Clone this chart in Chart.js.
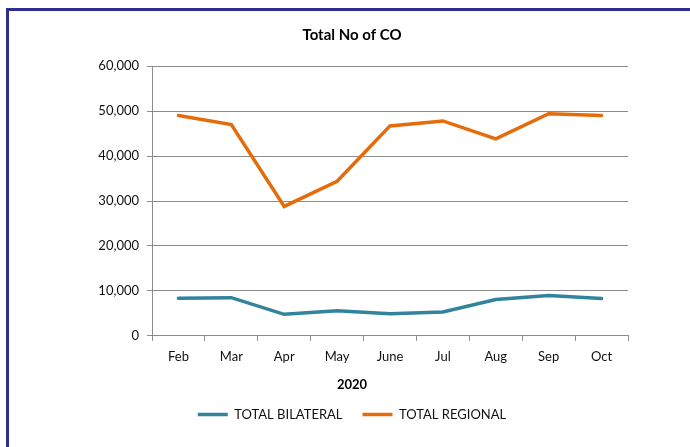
<!DOCTYPE html>
<html>
<head>
<meta charset="utf-8">
<script src="https://cdn.jsdelivr.net/npm/chart.js@4.4.0/dist/chart.umd.min.js"></script>
<style>
    html, body { margin: 0; padding: 0; background: #fff; overflow: hidden; }
    #frame {
        position: absolute; left: 6px; top: 8px;
        width: 692px; height: 460px;
        box-sizing: border-box;
        border: 3px solid #2e2e8e;
    }
    #myChart { position: absolute; left: 0; top: 0; }
</style>
</head>
<body>
<div id="frame">
    <canvas id="myChart" width="686" height="436"></canvas>
</div>
<script>
// Chart data
var months = ['Feb', 'Mar', 'Apr', 'May', 'June', 'Jul', 'Aug', 'Sep', 'Oct'];
var totalBilateral = [8400, 8500, 4800, 5600, 4900, 5300, 8100, 9000, 8300];
var totalRegional = [49000, 47000, 28800, 34400, 46700, 47800, 43800, 49400, 49000];
var yTicks = [0, 10000, 20000, 30000, 40000, 50000, 60000];

var gridGrey = '#8c8c8c';
var font = 'Lato';

var ctx = document.getElementById('myChart').getContext('2d');
var myChart = new Chart(ctx, {
    type: 'line',
    data: {
        labels: months,
        datasets: [{
            label: 'TOTAL BILATERAL',
            data: totalBilateral,
            borderColor: '#31849b',
            backgroundColor: '#31849b',
            borderWidth: 3.5,
            borderCapStyle: 'round',
            pointRadius: 0,
            tension: 0
        },
        {
            label: 'TOTAL REGIONAL',
            data: totalRegional,
            borderColor: '#e46c0a',
            backgroundColor: '#e46c0a',
            borderWidth: 3.5,
            borderCapStyle: 'round',
            pointRadius: 0,
            tension: 0
        }]
    },
    options: {
        responsive: false,
        animation: false,
        layout: {
            padding: { left: 67, right: 67, top: 0, bottom: 16 }
        },
        scales: {
            x: {
                offset: true,
                grid: {
                    offset: true,
                    drawOnChartArea: false,
                    drawTicks: true,
                    tickLength: 5,
                    color: gridGrey
                },
                border: { color: gridGrey, width: 1 },
                ticks: {
                    padding: 8,
                    color: '#111',
                    font: { family: font, size: 13 }
                },
                afterFit: function (scale) {
                    scale.height = 38.5;
                }
            },
            y: {
                min: 0,
                max: 60000,
                afterBuildTicks: function (scale) {
                    scale.ticks = yTicks.map(function (v) { return { value: v }; });
                },
                grid: {
                    color: gridGrey,
                    tickLength: 5
                },
                border: { color: gridGrey, width: 1 },
                ticks: {
                    padding: 8,
                    color: '#111',
                    font: { family: font, size: 13 },
                    callback: function (value) {
                        return value.toLocaleString('en-US');
                    }
                },
                afterFit: function (scale) {
                    scale.width = 76;
                }
            }
        },
        plugins: {
            title: {
                display: true,
                text: 'Total No of CO',
                color: '#000',
                font: { family: font, size: 15, weight: 'bold' },
                padding: { top: 15, bottom: 22.1 }
            },
            legend: {
                position: 'bottom',
                title: {
                    display: true,
                    text: '2020',
                    color: '#000',
                    font: { family: font, size: 13, weight: 'bold' },
                    padding: { top: 4, bottom: -6 }
                },
                labels: {
                    usePointStyle: true,
                    pointStyle: 'line',
                    pointStyleWidth: 30,
                    padding: 20,
                    color: '#111',
                    font: { family: font, size: 13 }
                }
            },
            tooltip: { enabled: false }
        }
    }
});
</script>
</body>
</html>
